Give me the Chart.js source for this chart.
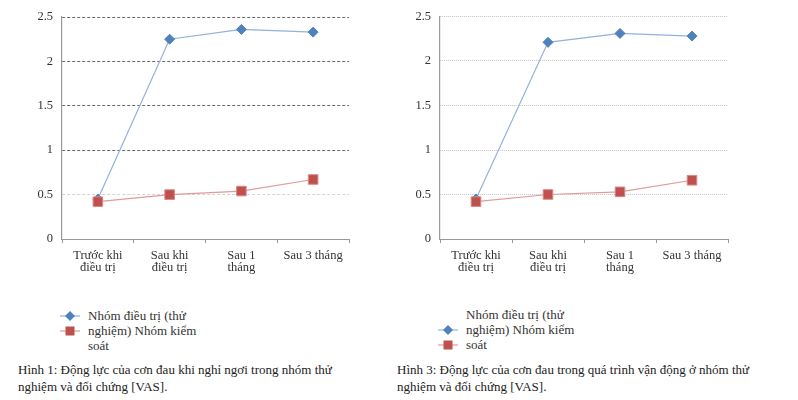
<!DOCTYPE html>
<html>
<head>
<meta charset="utf-8">
<script src="https://cdn.jsdelivr.net/npm/chart.js@4/dist/chart.umd.min.js"></script>
<style>
  html, body { margin: 0; padding: 0; background: #fff; width: 798px; height: 400px; overflow: hidden; }
  body { position: relative; font-family: "Liberation Serif", "DejaVu Serif", serif; color: #222; }
  .chartbox { position: absolute; top: 0; width: 360px; height: 285px; }
  .legend { position: absolute; font-size: 13px; line-height: 15px; color: #333; }
  .legend .txt { position: absolute; width: 112px; }
  .legend svg { position: absolute; }
  .caption { position: absolute; font-size: 13px; line-height: 17px; color: #222; white-space: nowrap; }
</style>
</head>
<body>
<div class="chartbox" style="left:0px"><canvas id="c1" width="360" height="285"></canvas></div>
<div class="chartbox" style="left:380px"><canvas id="c2" width="360" height="285"></canvas></div>
<div class="legend" id="lg1" style="left:60px; top:308px;"></div>
<div class="legend" id="lg2" style="left:438px; top:307px;"></div>
<div class="caption" id="cap1" style="left:18px; top:361px;"></div>
<div class="caption" id="cap2" style="left:397px; top:361px;"></div>
<script>
// ---- data ----
const categories = [["Trước khi", "điều trị"], ["Sau khi", "điều trị"], ["Sau 1", "tháng"], "Sau 3 tháng"];
const seriesNames = ["Nhóm điều trị (thử nghiệm)", "Nhóm kiểm soát"];
const restTreatment = [0.45, 2.25, 2.36, 2.33];
const restControl = [0.42, 0.50, 0.54, 0.67];
const moveTreatment = [0.45, 2.21, 2.31, 2.28];
const moveControl = [0.42, 0.50, 0.53, 0.66];
const yTicks = { min: 0, max: 2.5, step: 0.5 };
const captionLines1 = ["Hình 1: Động lực của cơn đau khi nghỉ ngơi trong nhóm thử", "nghiệm và đối chứng [VAS]."];
const captionLines3 = ["Hình 3: Động lực của cơn đau trong quá trình vận động ở nhóm thử", "nghiệm và đối chứng [VAS]."];

const BLUE = '#4f81bd', BLUE_LINE = '#95b0dc';
const RED = '#c0504d', RED_LINE = '#e09a98';
const FONT = { family: '"Liberation Serif", "DejaVu Serif", serif', size: 12.5 };

function makeChart(id, blueData, redData, opt) {
  return new Chart(document.getElementById(id), {
    type: 'line',
    data: {
      labels: categories,
      datasets: [
        { label: seriesNames[0], data: blueData, order: 1,
          borderColor: BLUE_LINE, borderWidth: 1.2, backgroundColor: BLUE,
          pointStyle: 'rectRot', pointRadius: 5, pointBackgroundColor: BLUE, pointBorderColor: BLUE, pointBorderWidth: 1,
          tension: 0 },
        { label: seriesNames[1], data: redData, order: 0,
          borderColor: RED_LINE, borderWidth: 1.2, backgroundColor: RED,
          pointStyle: 'rect', pointRadius: 6.8, pointBackgroundColor: RED, pointBorderColor: '#d88a88', pointBorderWidth: 1,
          tension: 0 }
      ]
    },
    options: {
      responsive: false,
      animation: false,
      devicePixelRatio: 1,
      layout: { padding: { top: opt.top, right: opt.right, left: 0, bottom: 0 } },
      plugins: { legend: { display: false }, tooltip: { enabled: false } },
      scales: {
        x: {
          type: 'category',
          offset: true,
          grid: { offset: true, drawOnChartArea: false, drawTicks: true, tickLength: 4, color: '#999', lineWidth: 1 },
          border: { display: true, color: '#999', width: 1 },
          ticks: { color: '#333', font: { ...FONT, lineHeight: 1.0 }, padding: 6, maxRotation: 0, autoSkip: false },
          afterFit: s => { s.height = opt.xh; }
        },
        y: {
          min: yTicks.min, max: yTicks.max,
          grid: {
            drawTicks: false, tickLength: 0, lineWidth: 1,
            color: ctx => opt.gridColor(ctx.tick ? ctx.tick.value : null)
          },
          border: { display: true, color: '#999', width: 1.2, dash: opt.dash },
          ticks: { stepSize: yTicks.step, color: '#333', font: FONT, padding: 9,
                   callback: v => String(Math.round(v * 10) / 10) },
          afterFit: s => { s.width = opt.yw; }
        }
      }
    }
  });
}

makeChart('c1', restTreatment, restControl, {
  top: 17, right: 11, yw: 62, xh: 46, dash: [3, 2],
  gridColor: v => v === 0 ? 'rgba(0,0,0,0)' : (v === 0.5 ? '#d4d4d4' : '#6a6a6a')
});
makeChart('c2', moveTreatment, moveControl, {
  top: 13, right: 12, yw: 60, xh: 46, dash: [1, 1],
  gridColor: v => v === 0 ? 'rgba(0,0,0,0)' : '#c4c4c4'
});

// ---- legends (HTML) ----
function markerSvg(kind, top) {
  const color = kind === 'diamond' ? BLUE : RED;
  const line = kind === 'diamond' ? BLUE_LINE : RED_LINE;
  const shape = kind === 'diamond'
    ? `<polygon points="10,2 15,7 10,12 5,7" fill="${color}"/>`
    : `<rect x="5.5" y="2.5" width="9" height="9" fill="${color}"/>`;
  return `<svg width="20" height="14" style="left:0px; top:${top}px"><line x1="0" y1="7" x2="20" y2="7" stroke="${line}" stroke-width="1.2"/>${shape}</svg>`;
}
function buildLegend(el, rows) {
  el.innerHTML = markerSvg('diamond', rows[0] * 15 + 0.5) + markerSvg('square', rows[1] * 15 + 0.5) +
    `<div class="txt" style="left:28px; top:0px">${seriesNames.join(' ')}</div>`;
}
buildLegend(document.getElementById('lg1'), [0, 1]);
buildLegend(document.getElementById('lg2'), [1, 2]);

document.getElementById('cap1').innerHTML = captionLines1.join('<br>');
document.getElementById('cap2').innerHTML = captionLines3.join('<br>');
</script>
</body>
</html>
